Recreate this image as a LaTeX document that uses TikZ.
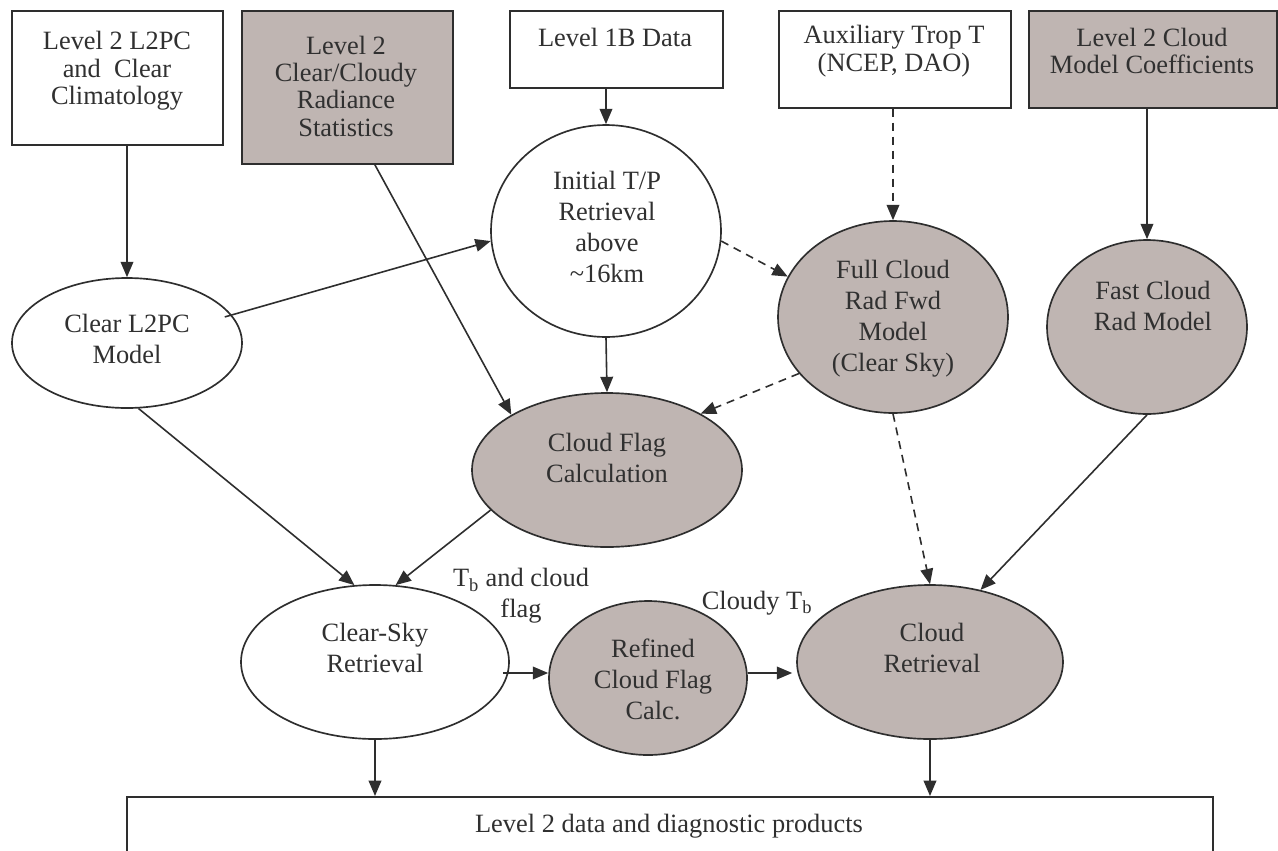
\documentclass[tikz,border=0pt]{standalone}
\usepackage{fontspec}
\setmainfont{Liberation Serif}
\usetikzlibrary{shapes.geometric,arrows.meta,calc}
\definecolor{lc}{HTML}{2E2E2E}
\definecolor{gf}{HTML}{BFB5B2}
\definecolor{tc}{HTML}{303030}
\begin{document}
\begin{tikzpicture}[x=0.75pt,y=-0.75pt,
  shp/.style={draw=lc,line width=1.25pt,inner sep=0pt},
  bx/.style={shp,rectangle,anchor=north west,fill=white},
  gbx/.style={bx,fill=gf},
  el/.style={shp,ellipse,fill=white},
  gel/.style={el,fill=gf},
  lbl/.style={text=tc,align=center,font=\fontsize{19.8}{20.5}\selectfont,inner sep=0pt},
  elbl/.style={lbl,font=\fontsize{19.8}{23.2}\selectfont},
  arr/.style={draw=lc,line width=1.2pt,-{Triangle[length=11.5pt,width=9.5pt]}},
  darr/.style={arr,dash pattern=on 6pt off 4.5pt},
]
\useasboundingbox (0,0) rectangle (1278,850);
\clip (0,0) rectangle (1278,850);

% top boxes
\node[bx,minimum width=158.25pt,minimum height=100.5pt] (b1) at (11,10) {};
\node[gbx,minimum width=158.25pt,minimum height=114.75pt] (b2) at (241,10) {};
\node[bx,minimum width=159.75pt,minimum height=57.75pt] (b3) at (509,10) {};
\node[bx,minimum width=174pt,minimum height=72.75pt] (b4) at (778,10) {};
\node[gbx,minimum width=186pt,minimum height=72.75pt] (b5) at (1028,10) {};
\node[bx,minimum width=814.5pt,minimum height=75pt] (bot) at (126,796) {};

\node[lbl] (t1) at (117,71) {Level 2 L2PC\\and~ Clear\\Climatology};
\node[lbl] (t2) at (346,86) {Level 2\\Clear/Cloudy\\Radiance\\Statistics};
\node[lbl] (t3) at (615,37) {Level 1B Data};
\node[lbl] (t4) at (894,51) {Auxiliary Trop T\\(NCEP, DAO)};
\node[lbl] (t5) at (1152,51) {Level 2 Cloud\\Model Coefficients};
\node[lbl] (tbot) at (669,826) {Level 2 data and diagnostic products};

% ellipses
\node[el,minimum width=172.5pt,minimum height=97.5pt] (cl2pc) at (127,343) {};
\node[el,minimum width=172.5pt,minimum height=159pt] (itp) at (606,231) {};
\node[gel,minimum width=172.5pt,minimum height=144pt] (fcr) at (893,317) {};
\node[gel,minimum width=150pt,minimum height=130.5pt] (fast) at (1147,327) {};
\node[gel,minimum width=202.5pt,minimum height=115.5pt] (cfc) at (607,470) {};
\node[el,minimum width=201pt,minimum height=115.5pt] (csr) at (375,662) {};
\node[gel,minimum width=148.5pt,minimum height=115.5pt] (ref) at (648,678) {};
\node[gel,minimum width=199.5pt,minimum height=115.5pt] (cr) at (930,662) {};

\node[elbl] (tcl2pc) at (127,339) {Clear L2PC\\Model};
\node[elbl] (titp) at (607,227) {Initial T/P\\Retrieval\\above\\\textasciitilde16km};
\node[elbl] (tfcr) at (893,319) {Full Cloud\\Rad Fwd\\Model\\(Clear Sky)};
\node[elbl] (tfast) at (1153,306) {Fast Cloud\\Rad Model};
\node[elbl] (tcfc) at (607,458) {Cloud Flag\\Calculation};
\node[elbl] (tcsr) at (375,648) {Clear-Sky\\Retrieval};
\node[elbl] (tref) at (653,679) {Refined\\Cloud Flag\\Calc.};
\node[elbl] (tcr) at (932,648) {Cloud\\Retrieval};

% edge labels
\node[elbl] (lab1) at (521,596) {T\textsubscript{b} and cloud\\flag};
\node[lbl] (lab2) at (757,603) {Cloudy T\textsubscript{b}};

% connectors
\draw[arr] (cl2pc.north |- b1.south) -- (cl2pc.north);
\draw[arr] ($(b2.south)+(27.5,0)$) -- (cfc.150);
\draw[arr] (itp.north |- b3.south) -- (itp.north);
\draw[darr] (fcr.north |- b4.south) -- (fcr.north);
\draw[arr] (fast.north |- b5.south) -- (fast.north);
\draw[arr] ($(cl2pc.15)+(-7,2)$) -- (itp.185);
\draw[darr] (itp.-5) -- (fcr.159);
\draw[arr] (itp.south) -- (cfc.north);
\draw[darr] (fcr.211) -- (cfc.31);
\draw[darr] (fcr.south) -- (cr.north);
\draw[arr] (fast.south) -- (cr.55);
\draw[arr] (cl2pc.-80) -- (csr.105);
\draw[arr] (cfc.199) -- (csr.75);
\draw[arr] ($(csr.east)+(-7,11)$) -- ($(ref.west)+(0,-5)$);
\draw[arr] ($(ref.east)+(0,-5)$) -- ($(cr.west)+(-4,11)$);
\draw[arr] (csr.south) -- (csr.south |- bot.north);
\draw[arr] (cr.south) -- (cr.south |- bot.north);
\end{tikzpicture}
\end{document}
